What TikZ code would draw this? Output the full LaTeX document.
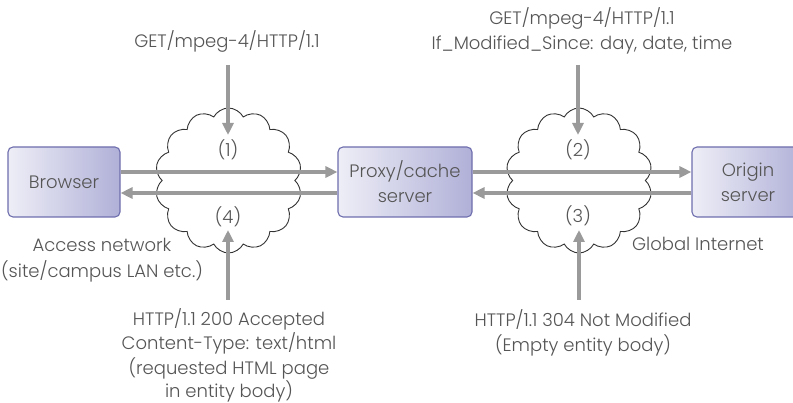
\documentclass[tikz,border=0pt]{standalone}
\usepackage{fontspec}
\setmainfont{Poppins}[UprightFont=* Light]
\usetikzlibrary{arrows.meta,shapes.symbols,calc}
\definecolor{txt}{HTML}{555555}
\definecolor{arr}{HTML}{9A9A9A}
\definecolor{boxl}{HTML}{EEEEF7}
\definecolor{boxr}{HTML}{B0B0D8}
\definecolor{boxb}{HTML}{6E6EAE}
\definecolor{cloudc}{HTML}{333333}
\begin{document}
\begin{tikzpicture}[x=1pt,y=-1pt,
  font=\fontsize{18}{25}\selectfont, text=txt,
  boxn/.style={draw=boxb, line width=1.1pt, rounded corners=5pt, left color=boxl, right color=boxr,
    minimum height=70pt, align=center, inner sep=0pt},
  netcloud/.style={cloud, cloud puffs=14, cloud puff arc=125, aspect=1, draw=cloudc, line width=0.9pt,
    minimum width=147pt, minimum height=145pt, inner sep=0pt},
  flow/.style={draw=arr, line width=4pt, -{Triangle[length=12pt,width=11pt]}},
  lbl/.style={align=center, inner sep=0pt, anchor=base}]
\clip (0,0) rectangle (793,403);
\fill[white] (0,0) rectangle (793,403);
% clouds
\node[netcloud] (c1) at (228.5,180.5) {};
\node[netcloud] (c2) at (579,180.5) {};
% boxes
\node[boxn, minimum width=112pt] (browser) at (64,182) {Browser};
\node[boxn, minimum width=134pt] (proxy) at (405,182) {Proxy/cache\\server};
\node[boxn, minimum width=112pt] (origin) at (748,182) {Origin\\server};
% horizontal flows
\draw[flow] ([yshift=10pt]browser.east) -- ([yshift=10pt]proxy.west);
\draw[flow] ([yshift=-11pt]proxy.west) -- ([yshift=-11pt]browser.east);
\draw[flow] ([yshift=10pt]proxy.east) -- ([yshift=10pt]origin.west);
\draw[flow] ([yshift=-11pt]origin.west) -- ([yshift=-11pt]proxy.east);
% step labels
\node[lbl] (s1) at (228,157) {(1)};
\node[lbl] (s4) at (228,224) {(4)};
\node[lbl] (s2) at (578,157) {(2)};
\node[lbl] (s3) at (578,223) {(3)};
% texts (base anchor = baseline of last line)
\node[lbl] (t1) at (227,48) {GET/mpeg-4/HTTP/1.1};
\node[lbl] (t2) at (582,50) {GET/mpeg-4/HTTP/1.1\\If\_Modified\_Since: day, date, time};
\node[lbl, font=\fontsize{18}{24}\selectfont] (t4) at (229,398) {HTTP/1.1 200 Accepted\\Content-Type: text/html\\(requested HTML page\\in entity body)};
\node[lbl] (t3) at (583,352) {HTTP/1.1 304 Not Modified\\(Empty entity body)};
\node[lbl, font=\fontsize{18}{26}\selectfont] (acc) at (102,278) {Access network\\(site/campus LAN etc.)};
\node[lbl] (glob) at (698,251) {Global Internet};
% vertical flows
\coordinate (v1a) at (228,65);  \coordinate (v1b) at (228,135);
\coordinate (v2a) at (578,65);  \coordinate (v2b) at (578,135);
\coordinate (v4a) at (228,300); \coordinate (v4b) at (228,230);
\coordinate (v3a) at (579,300); \coordinate (v3b) at (579,230);
\draw[flow] (v1a) -- (v1b);
\draw[flow] (v2a) -- (v2b);
\draw[flow] (v4a) -- (v4b);
\draw[flow] (v3a) -- (v3b);
\end{tikzpicture}
\end{document}
